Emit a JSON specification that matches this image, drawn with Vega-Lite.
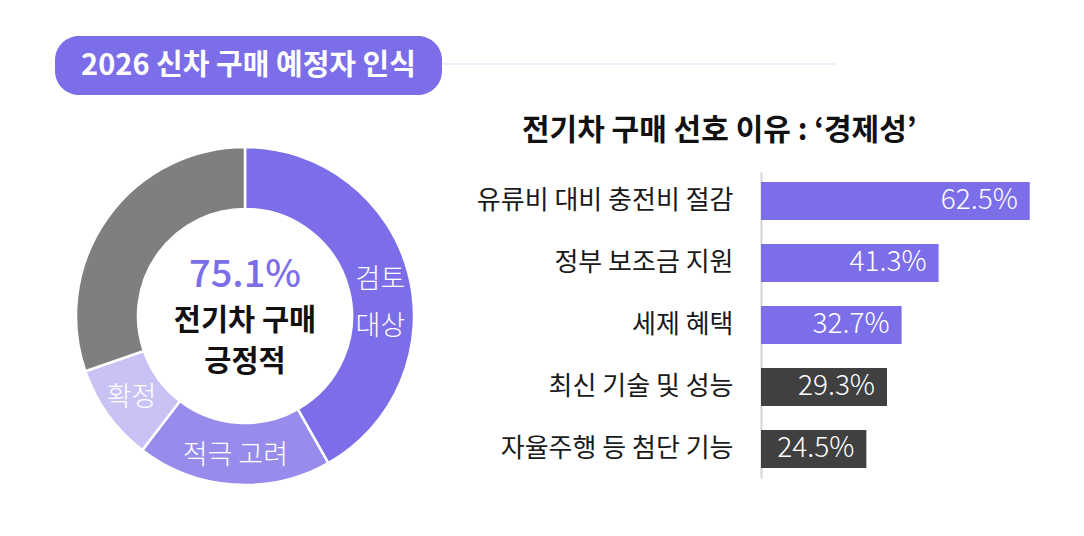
{
  "$schema": "https://vega.github.io/schema/vega-lite/v6.json",
  "padding": {"left": 55, "top": 36, "right": 0, "bottom": 0},
  "background": "white",
  "bounds": "flush",
  "spacing": 77,
  "config": {
    "font": "Noto Sans CJK KR",
    "view": {"stroke": null},
    "text": {"font": "Noto Sans CJK KR"}
  },
  "resolve": {"scale": {"color": "independent", "x": "independent", "y": "independent"}},
  "vconcat": [
    {
      "width": 780,
      "height": 59,
      "data": {"values": [{"제목": "2026 신차 구매 예정자 인식"}]},
      "layer": [
        {
          "mark": {"type": "rule", "color": "#EFECFB", "strokeWidth": 2},
          "encoding": {
            "x": {"datum": 387, "type": "quantitative", "scale": {"domain": [0, 780], "nice": false, "zero": false}, "axis": null},
            "x2": {"datum": 780},
            "y": {"datum": 31, "type": "quantitative", "scale": {"domain": [0, 59], "nice": false}, "axis": null}
          }
        },
        {
          "mark": {"type": "rect", "color": "#7B6EE8", "cornerRadius": 24},
          "encoding": {
            "x": {"datum": 0, "type": "quantitative"},
            "x2": {"datum": 387}
          }
        },
        {
          "mark": {"type": "text", "color": "white", "fontSize": 29, "fontWeight": "bold", "baseline": "middle", "align": "center"},
          "encoding": {
            "x": {"datum": 193.5, "type": "quantitative"},
            "text": {"field": "제목"}
          }
        }
      ]
    },
    {
      "bounds": "flush",
      "spacing": 326,
      "resolve": {"scale": {"color": "independent", "theta": "independent"}},
      "hconcat": [
        {
          "width": 380,
          "height": 288,
          "data": {"values": [
            {"구분": "검토 대상", "비율": 41.8, "표시": "검토\n대상", "순서": 1},
            {"구분": "적극 고려", "비율": 18.6, "표시": "적극 고려", "순서": 2},
            {"구분": "확정", "비율": 9.3, "표시": "확정", "순서": 3},
            {"구분": "기타", "비율": 30.3, "표시": "", "순서": 4}
          ]},
          "layer": [
            {
              "mark": {"type": "arc", "outerRadius": 169, "innerRadius": 107, "stroke": "white", "strokeWidth": 2.5},
              "encoding": {
                "theta": {"field": "비율", "type": "quantitative", "stack": true},
                "order": {"field": "순서", "type": "quantitative"},
                "color": {
                  "field": "구분", "type": "nominal",
                  "scale": {"domain": ["검토 대상", "적극 고려", "확정", "기타"], "range": ["#7B6EE8", "#978BEB", "#C9C3F5", "#7F7F7F"]},
                  "legend": null
                }
              }
            },
            {
              "mark": {"type": "text", "radius": 140, "fontSize": 27, "fontWeight": 300, "color": "white", "lineBreak": "\n", "lineHeight": 47, "baseline": "middle", "align": "center"},
              "encoding": {
                "theta": {"field": "비율", "type": "quantitative", "stack": true},
                "order": {"field": "순서", "type": "quantitative"},
                "text": {"field": "표시"}
              }
            },
            {
              "data": {"values": [{"값": "75.1%"}]},
              "mark": {"type": "text", "fontSize": 38, "color": "#7B6EE8", "fontWeight": 500, "dy": -40, "baseline": "middle", "align": "center"},
              "encoding": {"text": {"field": "값"}}
            },
            {
              "data": {"values": [{"문구": "전기차 구매"}]},
              "mark": {"type": "text", "fontSize": 29.5, "color": "#111111", "fontWeight": "bold", "dy": 5, "baseline": "middle", "align": "center"},
              "encoding": {"text": {"field": "문구"}}
            },
            {
              "data": {"values": [{"문구": "긍정적"}]},
              "mark": {"type": "text", "fontSize": 29.5, "color": "#111111", "fontWeight": "bold", "dy": 46, "baseline": "middle", "align": "center"},
              "encoding": {"text": {"field": "문구"}}
            }
          ]
        },
        {
          "width": 301,
          "height": 306,
          "title": {
            "text": "전기차 구매 선호 이유 : ‘경제성’",
            "anchor": "start",
            "frame": "group",
            "dx": -239,
            "fontSize": 30,
            "fontWeight": "bold",
            "color": "#111111",
            "offset": 26
          },
          "data": {"values": [
            {"이유": "유류비 대비 충전비 절감", "비율": 0.625, "분류": "경제성"},
            {"이유": "정부 보조금 지원", "비율": 0.413, "분류": "경제성"},
            {"이유": "세제 혜택", "비율": 0.327, "분류": "경제성"},
            {"이유": "최신 기술 및 성능", "비율": 0.293, "분류": "기술"},
            {"이유": "자율주행 등 첨단 기능", "비율": 0.245, "분류": "기술"}
          ]},
          "encoding": {
            "y": {
              "field": "이유", "type": "nominal", "sort": null,
              "scale": {"paddingInner": 0.387, "paddingOuter": 0.161},
              "axis": {
                "title": null, "ticks": false, "domain": true, "domainColor": "#D6D6D6", "domainWidth": 2,
                "labelFontSize": 26, "labelColor": "#1A1A1A", "labelPadding": 28, "labelLimit": 400,
                "labelFont": "Noto Sans CJK KR"
              }
            },
            "x": {"field": "비율", "type": "quantitative", "scale": {"domain": [0, 0.7], "nice": false}, "axis": null}
          },
          "layer": [
            {
              "mark": {"type": "bar"},
              "encoding": {
                "color": {"field": "분류", "type": "nominal", "scale": {"domain": ["경제성", "기술"], "range": ["#7B6EE8", "#404040"]}, "legend": null}
              }
            },
            {
              "mark": {"type": "text", "align": "right", "dx": -12, "color": "white", "fontSize": 28, "fontWeight": 300, "baseline": "middle"},
              "encoding": {"text": {"field": "비율", "type": "quantitative", "format": ".1%"}}
            }
          ]
        }
      ]
    }
  ]
}
